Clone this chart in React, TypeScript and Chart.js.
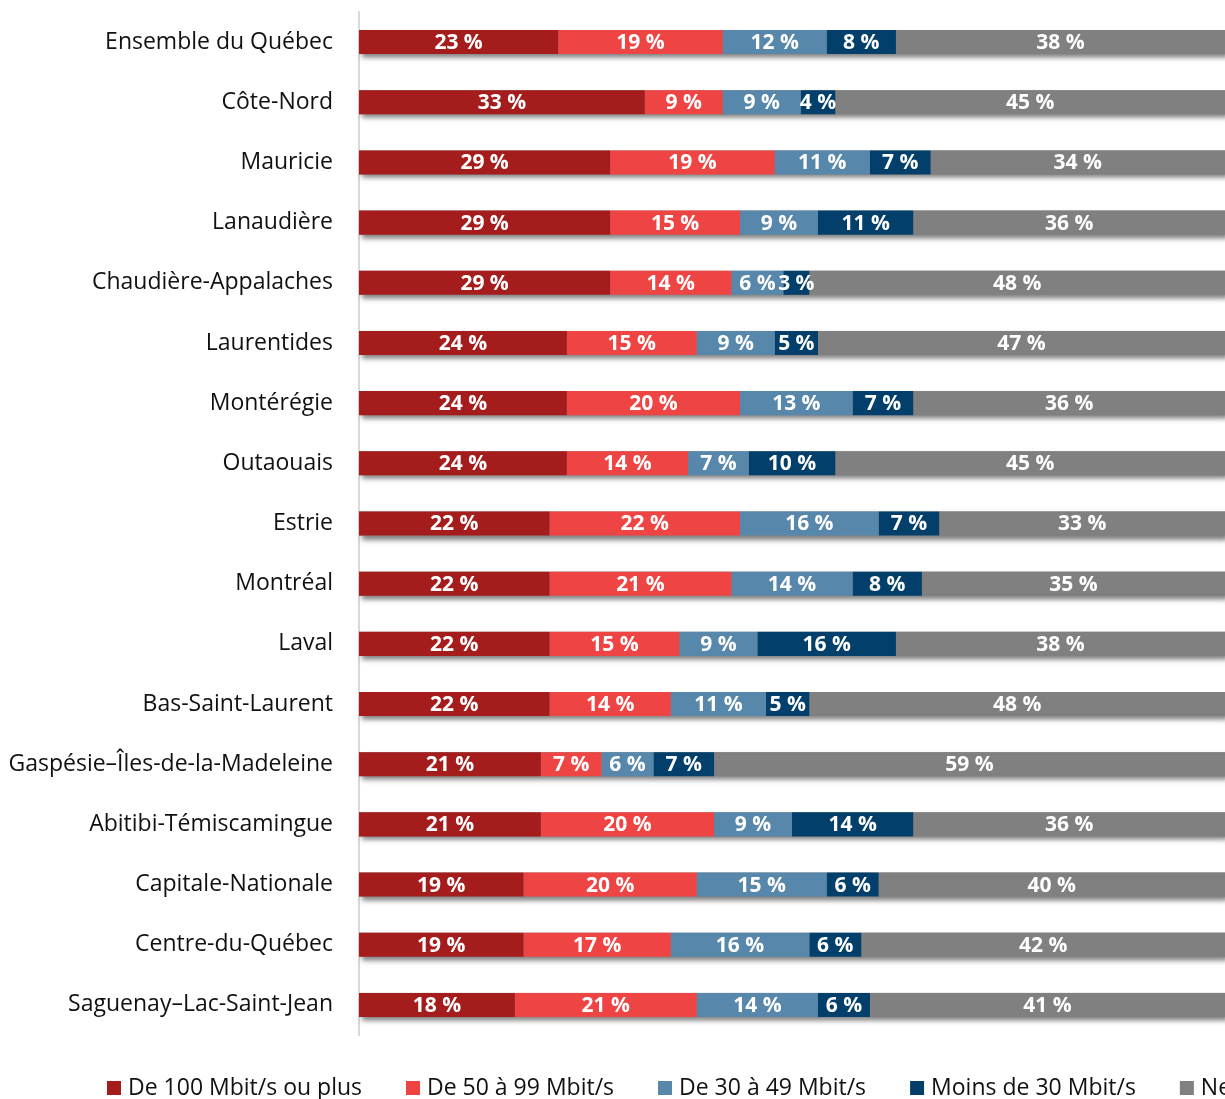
import React, { useEffect, useRef } from "react";
import { Chart, registerables } from "chart.js";

Chart.register(...registerables);

const categories = [
  "Ensemble du Québec",
  "Côte-Nord",
  "Mauricie",
  "Lanaudière",
  "Chaudière-Appalaches",
  "Laurentides",
  "Montérégie",
  "Outaouais",
  "Estrie",
  "Montréal",
  "Laval",
  "Bas-Saint-Laurent",
  "Gaspésie–Îles-de-la-Madeleine",
  "Abitibi-Témiscamingue",
  "Capitale-Nationale",
  "Centre-du-Québec",
  "Saguenay–Lac-Saint-Jean",
];

const seriesLabels = [
  "De 100 Mbit/s ou plus",
  "De 50 à 99 Mbit/s",
  "De 30 à 49 Mbit/s",
  "Moins de 30 Mbit/s",
  "Ne sait pas",
];

const s100plus = [23, 33, 29, 29, 29, 24, 24, 24, 22, 22, 22, 22, 21, 21, 19, 19, 18];
const s50to99 = [19, 9, 19, 15, 14, 15, 20, 14, 22, 21, 15, 14, 7, 20, 20, 17, 21];
const s30to49 = [12, 9, 11, 9, 6, 9, 13, 7, 16, 14, 9, 11, 6, 9, 15, 16, 14];
const sUnder30 = [8, 4, 7, 11, 3, 5, 7, 10, 7, 8, 16, 5, 7, 14, 6, 6, 6];
const sUnknown = [38, 45, 34, 36, 48, 47, 36, 45, 33, 35, 38, 48, 59, 36, 40, 42, 41];

const seriesColors = ["#A41C1C", "#EF4444", "#5787AA", "#023F6B", "#808080"];

const FONT = "'Open Sans', 'Noto Sans', sans-serif";

const shadowPlugin = {
  id: "rowShadow",
  beforeDatasetsDraw(chart: any) {
    const ctx = chart.ctx;
    const first = chart.getDatasetMeta(0).data;
    const lastIdx = chart.data.datasets.length - 1;
    const last = chart.getDatasetMeta(lastIdx).data;
    ctx.save();
    ctx.shadowColor = "rgba(0,0,0,0.5)";
    ctx.shadowBlur = 5;
    ctx.shadowOffsetX = 3;
    ctx.shadowOffsetY = 4;
    ctx.fillStyle = "#888888";
    for (let i = 0; i < first.length; i++) {
      const a: any = first[i];
      const b: any = last[i];
      const left = a.base;
      const right = b.x;
      const h = a.height;
      ctx.fillRect(left, a.y - h / 2, right - left, h);
    }
    ctx.restore();
  },
};

const labelsPlugin = {
  id: "segLabels",
  afterDatasetsDraw(chart: any) {
    const ctx = chart.ctx;
    ctx.save();
    ctx.fillStyle = "#ffffff";
    ctx.font = `bold 21px ${FONT}`;
    ctx.textAlign = "center";
    ctx.textBaseline = "middle";
    chart.data.datasets.forEach((ds: any, di: number) => {
      const meta = chart.getDatasetMeta(di);
      meta.data.forEach((el: any, i: number) => {
        const v = ds.data[i];
        const cx = (el.x + el.base) / 2;
        ctx.fillText(`${v} %`, cx, el.y + 1);
      });
    });
    ctx.restore();
  },
};

const legendPlugin = {
  id: "customLegend",
  afterDraw(chart: any) {
    const ctx = chart.ctx;
    ctx.save();
    ctx.font = `23px ${FONT}`;
    ctx.textBaseline = "middle";
    ctx.textAlign = "left";
    let x = 107;
    const y = 1088;
    const box = 14;
    chart.data.datasets.forEach((ds: any) => {
      ctx.fillStyle = ds.backgroundColor;
      ctx.fillRect(x, y - box / 2, box, box);
      x += box + 7;
      ctx.fillStyle = "#111111";
      ctx.fillText(ds.label, x, y);
      x += ctx.measureText(ds.label).width + 44;
    });
    ctx.restore();
  },
};

export default function App() {
  const ref = useRef<HTMLCanvasElement | null>(null);

  useEffect(() => {
    if (!ref.current) return;
    const seriesData = [s100plus, s50to99, s30to49, sUnder30, sUnknown];
    const chart = new Chart(ref.current, {
      type: "bar",
      data: {
        labels: categories,
        datasets: seriesLabels.map((label, i) => ({
          label,
          data: seriesData[i],
          backgroundColor: seriesColors[i],
          borderWidth: 0,
          barPercentage: 0.4,
          categoryPercentage: 1,
        })),
      },
      options: {
        indexAxis: "y",
        responsive: false,
        animation: false,
        layout: { padding: { left: 0, right: 0, top: 12, bottom: 64 } },
        plugins: {
          legend: { display: false },
          tooltip: { enabled: false },
        },
        scales: {
          x: {
            stacked: true,
            min: 0,
            max: 100,
            display: false,
          },
          y: {
            stacked: true,
            grid: { display: false, drawTicks: false },
            border: { display: true, color: "#d9d9d9", width: 2 },
            ticks: {
              padding: 26,
              color: "#111111",
              font: { family: FONT, size: 23 },
            },
            afterFit(scale: any) {
              scale.width = 359;
              scale.paddingTop = 0;
              scale.paddingBottom = 0;
            },
          },
        },
      },
      plugins: [shadowPlugin, labelsPlugin, legendPlugin],
    } as any);
    return () => chart.destroy();
  }, []);

  return (
    <div
      style={{
        position: "fixed",
        left: 0,
        top: 0,
        width: 1225,
        height: 1099,
        overflow: "hidden",
        background: "#ffffff",
      }}
    >
      <canvas ref={ref} width={1225} height={1099} style={{ display: "block" }} />
    </div>
  );
}
